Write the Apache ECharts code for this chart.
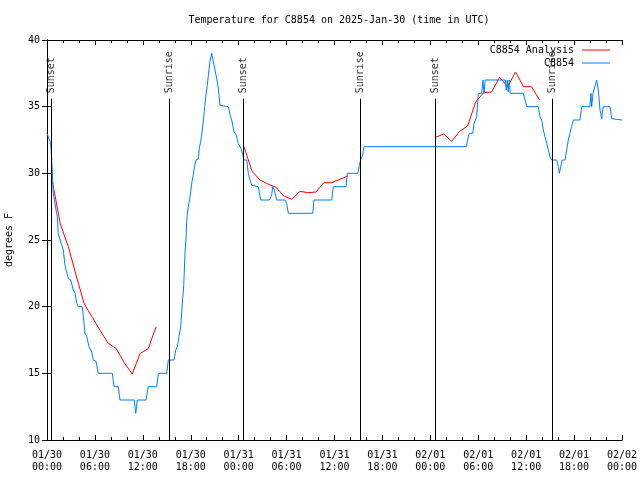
<!DOCTYPE html>
<html><head><meta charset="utf-8">
<script src="https://cdn.jsdelivr.net/npm/echarts@6/dist/echarts.min.js"></script>
<style>html,body{margin:0;padding:0;background:#fff}#c{width:640px;height:480px}</style>
</head><body><div id="c"></div>
<script>
// Hours since 2025-01-30 00:00 UTC
const xTickLabels = ['01/30\n00:00','01/30\n06:00','01/30\n12:00','01/30\n18:00','01/31\n00:00','01/31\n06:00','01/31\n12:00','01/31\n18:00','02/01\n00:00','02/01\n06:00','02/01\n12:00','02/01\n18:00','02/02\n00:00'];

// Observations (C8854): [hour, degF]
const obsHours = [0.00,0.19,0.44,0.54,0.63,0.71,0.79,1.09,1.29,1.41,1.59,1.79,2.04,2.25,2.47,2.67,2.97,3.29,3.51,3.72,3.92,4.42,4.55,4.76,4.97,5.26,5.60,5.80,6.14,6.42,8.18,8.39,8.93,9.14,10.93,11.11,11.31,12.40,12.68,13.74,13.94,14.99,15.19,15.90,16.12,16.32,16.53,16.74,16.87,16.99,17.12,17.19,17.28,17.41,17.49,17.66,17.82,17.99,18.16,18.32,18.50,18.66,18.95,19.07,19.25,19.41,19.57,19.75,19.91,20.07,20.25,20.41,20.62,20.82,21.04,21.25,21.45,21.66,22.70,22.92,23.13,23.42,23.67,23.95,24.26,24.51,24.67,25.01,25.21,25.42,25.63,25.71,26.46,26.76,27.84,28.14,28.26,28.46,28.76,29.80,30.01,30.22,33.27,33.43,35.65,35.85,37.44,37.60,38.91,39.11,39.28,39.53,39.69,39.82,52.55,52.63,52.88,53.31,53.47,53.80,54.00,54.43,54.59,54.72,54.88,57.39,57.51,57.64,57.76,57.89,58.00,59.64,60.07,61.52,61.73,61.95,62.15,62.36,62.57,62.77,62.98,63.19,63.82,64.02,64.15,64.36,64.52,64.86,65.07,65.27,65.48,65.69,65.90,66.74,66.95,67.99,68.12,68.20,68.37,68.62,68.83,69.03,69.25,69.46,69.58,69.66,70.50,70.71,70.91,72.00];
const obsTemps = [33,33,32.3,31.5,30.5,29.5,28.5,27.4,26.75,25.5,25.1,25,24.25,23.1,23,22.1,22,21.25,21,20.25,20,20,19.25,18,17.75,17,16.6,16,15.9,15,15,14,14,13,13,12,13,13,14,14,15,15,16,16,16.75,17,17.75,18.5,19.6,20.6,21.6,22.6,24.1,25.1,26.4,27.4,27.9,28.6,29.4,29.9,30.6,31,31.1,31.9,32.4,33.1,33.9,35,35.9,36.6,37.6,38.4,39,38.4,37.75,37.1,36.4,35.1,35,34.4,34,33.1,32.9,32.25,31.9,31.4,31,31,30,29.5,29.1,29,29,28,28,28.4,29,28.75,28,28,27.75,27,27,28,28,29,29,30,30,30.6,31,31.4,32,32,32,32.4,33,33,33.75,34.25,36,36,37,36,37,37,36.25,37,36.1,37,36,36,35,35,34.25,34,33.25,32.75,32.25,31.75,31.25,31,31,30.5,30,30,31,31,31.75,32.5,33,33.5,34,34,35,35,36,35,36,36,37,36.25,34.75,34.1,34.75,35,35,34.1,34,34];

// Analysis (C8854 Analysis): three runs, hourly at :40
const anaHours1 = [0.67,1.67,2.67,3.67,4.67,5.67,6.67,7.67,8.67,9.67,10.67,11.67,12.67,13.67];
const anaTemps1 = [29.4,26.2,24.5,22.3,20.2,19.2,18.2,17.25,16.85,15.8,14.95,16.5,16.85,18.5];
const anaHours2 = [24.67,25.67,26.67,27.67,28.67,29.67,30.67,31.67,32.67,33.67,34.67,35.67,36.67,37.67];
const anaTemps2 = [32.0,30.15,29.5,29.2,28.95,28.3,28.05,28.65,28.55,28.6,29.3,29.3,29.55,29.8];
const anaHours3 = [48.67,49.67,50.67,51.67,52.67,53.67,54.67,55.67,56.67,57.67,58.67,59.67,60.67,61.67];
const anaTemps3 = [32.7,32.95,32.4,33.15,33.55,35.35,36.05,36.1,37.2,36.5,37.6,36.5,36.5,35.5];

// Sunrise / sunset events
const eventHours = [0.54,15.31,24.58,39.19,48.63,63.30];
const eventNames = ['Sunset','Sunrise','Sunset','Sunrise','Sunset','Sunrise'];
const eventLineTop = 35.6;
const eventLabelY = 36.0;

const zip = (a,b) => a.map((v,i)=>[v,b[i]]);
const FONT = 'DejaVu Sans Mono';
const BLUE = '#0080ff', RED = '#ff0000';

const chart = echarts.init(document.getElementById('c'), null, {renderer:'canvas'});
const axisCommon = {
  axisLine:{show:true,lineStyle:{color:'#000',width:1}},
  splitLine:{show:false},
};
const anaSeries = (h,t) => ({
  name:'C8854 Analysis', type:'line', data:zip(h,t), symbol:'none', showSymbol:false,
  lineStyle:{color:RED,width:1}, itemStyle:{color:RED}, z:3
});
chart.setOption({
  animation:false,
  backgroundColor:'#fff',
  title:{text:'Temperature for C8854 on 2025-Jan-30 (time in UTC)', left:334, top:10, textAlign:'center',
    textStyle:{fontFamily:FONT,fontSize:10,fontWeight:'normal',color:'#000'}},
  legend:{data:[{name:'C8854 Analysis',icon:'rect'},{name:'C8854',icon:'rect'}], orient:'vertical', right:30, top:45, align:'right', padding:0,
    itemWidth:28, itemHeight:1, itemGap:3, textStyle:{fontFamily:FONT,fontSize:10,color:'#000',padding:[0,3,0,0]}},
  grid:{left:47,right:18,top:40,bottom:40,containLabel:false,outerBoundsMode:'none'},
  xAxis:[
    Object.assign({type:'value',min:0,max:72,interval:6,position:'bottom',
      axisTick:{show:true,inside:true,length:5,lineStyle:{color:'#000'}},
      minorTick:{show:true,splitNumber:3,length:3,lineStyle:{color:'#000'}},
      axisLabel:{fontFamily:FONT,fontSize:10,color:'#000',margin:9,lineHeight:12,
        formatter:(v)=>xTickLabels[Math.round(v/6)]}},axisCommon),
    Object.assign({type:'value',min:0,max:72,interval:6,position:'top',
      axisTick:{show:true,inside:true,length:5,lineStyle:{color:'#000'}},
      minorTick:{show:true,splitNumber:3,length:3,lineStyle:{color:'#000'}},
      axisLabel:{show:false}},axisCommon)
  ],
  yAxis:[
    Object.assign({type:'value',min:10,max:40,interval:5,position:'left',name:'degrees F',
      nameLocation:'middle',nameGap:33,nameTextStyle:{fontFamily:FONT,fontSize:10,color:'#000'},
      axisTick:{show:true,inside:true,length:5,lineStyle:{color:'#000'}},
      axisLabel:{fontFamily:FONT,fontSize:10,color:'#000',margin:7}},axisCommon),
    Object.assign({type:'value',min:10,max:40,interval:5,position:'right',
      axisTick:{show:true,inside:true,length:5,lineStyle:{color:'#000'}},
      axisLabel:{show:false}},axisCommon)
  ],
  series:[
    {name:'events', type:'scatter', data:eventHours.map(h=>[h,eventLabelY]), symbolSize:0, z:2,
      label:{show:true, position:'inside', rotate:90, align:'left', verticalAlign:'middle',
        fontFamily:FONT, fontSize:10, color:'#000', formatter:(p)=>eventNames[p.dataIndex]},
      markLine:{silent:true, symbol:['none','none'], label:{show:false},
        lineStyle:{color:'#000',width:1,type:'solid'},
        data:eventHours.map(h=>[{coord:[h,10]},{coord:[h,eventLineTop]}])}},
    anaSeries(anaHours1,anaTemps1),
    anaSeries(anaHours2,anaTemps2),
    anaSeries(anaHours3,anaTemps3),
    {name:'C8854', type:'line', data:zip(obsHours,obsTemps), symbol:'none', showSymbol:false,
      lineStyle:{color:BLUE,width:1}, itemStyle:{color:BLUE}, z:4}
  ]
});
</script></body></html>
